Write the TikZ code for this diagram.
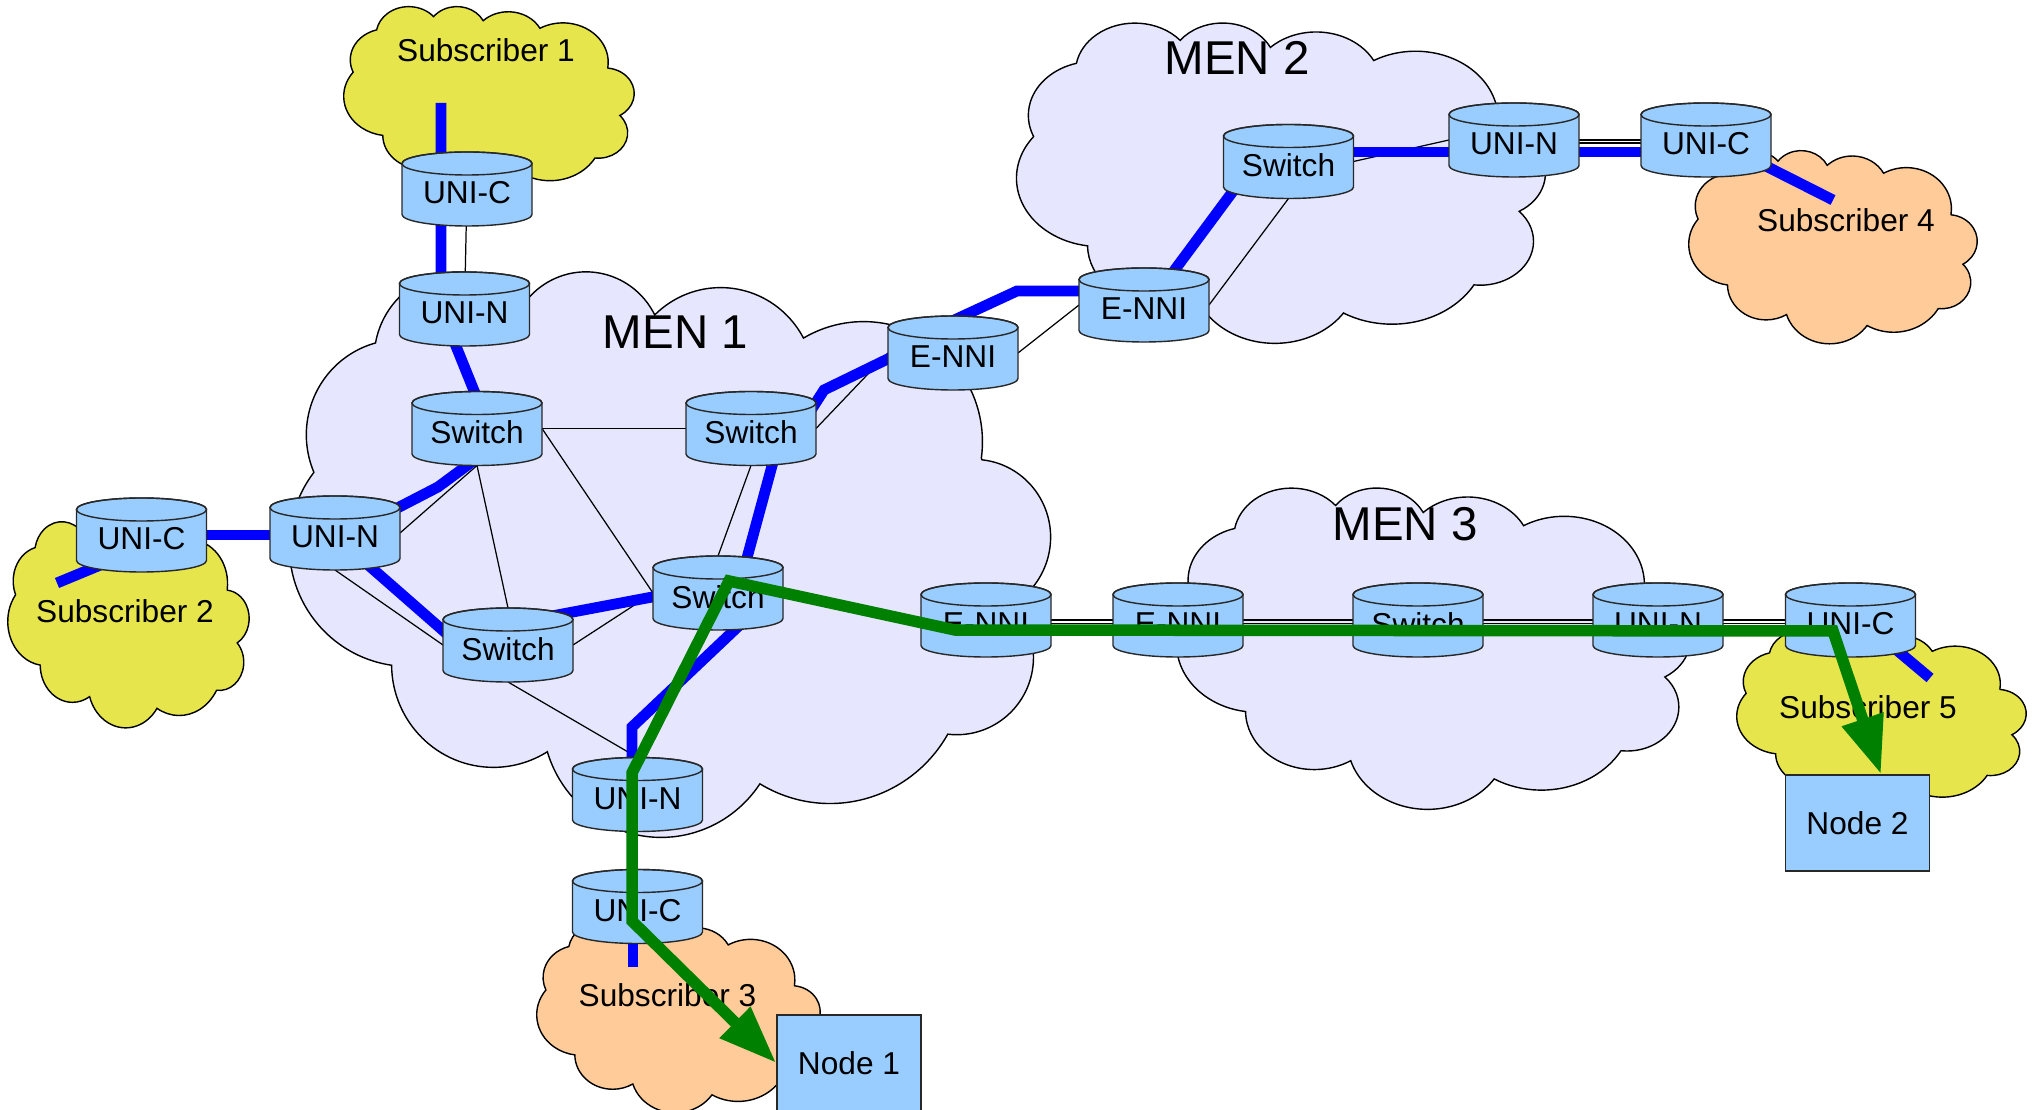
\documentclass[tikz,border=0pt]{standalone}
\usepackage{fontspec}
\setmainfont{Liberation Sans}
\usetikzlibrary{calc,arrows.meta}
\definecolor{menfill}{RGB}{230,230,255}
\definecolor{subyellow}{RGB}{230,230,76}
\definecolor{suborange}{RGB}{255,204,153}
\definecolor{cylfill}{RGB}{153,204,255}
\definecolor{linkblue}{RGB}{0,0,255}
\definecolor{pathgreen}{RGB}{0,128,0}
\definecolor{edgegray}{RGB}{40,40,40}

% cloud in a unit box; #1,#2 = shift, #3,#4 = x and y unit vectors
\newcommand\drawcloud[5]{%
  \begin{scope}[shift={(#1,#2)},x=#3,y=#4]
    \path[cloudedge,fill=#5] (0.09028,0.33264)
      arc[start angle=172.255, end angle=300.364, x radius=0.15632, y radius=0.21273]
      arc[start angle=-152.021, end angle=-45.456, x radius=0.12345, y radius=0.16822]
      arc[start angle=-153.49, end angle=-37.33, x radius=0.10104, y radius=0.13762]
      arc[start angle=-139.72, end angle=-10.211, x radius=0.11243, y radius=0.15266]
      arc[start angle=-74.768, end angle=23.209, x radius=0.12345, y radius=0.16836]
      arc[start angle=-37.525, end angle=81.863, x radius=0.15683, y radius=0.21343]
      arc[start angle=0.460, end angle=121.972, x radius=0.13391, y radius=0.18211]
      arc[start angle=16.845, end angle=146.230, x radius=0.15630, y radius=0.21331]
      arc[start angle=58.993, end angle=150.183, x radius=0.17870, y radius=0.24405]
      arc[start angle=83.306, end angle=223.108, x radius=0.10093, y radius=0.13699]
      arc[start angle=120.35, end angle=264.112, x radius=0.10058, y radius=0.13762]
      -- cycle;
  \end{scope}}

\newcommand\cylnode[3]{%
  \node[cylbox] (#1) at (#2) {};
  \path[cylbody] ($(#1)+(-65,-25.5)$) -- ++(0,51)
    arc[start angle=180, end angle=0, x radius=65, y radius=11.5] -- ++(0,-51)
    arc[start angle=0, end angle=-180, x radius=65, y radius=11.5] -- cycle;
  \draw[cyledge] ($(#1)+(0,-25.5)$) ellipse[x radius=65, y radius=11.5];
  \node[cyltext] at ($(#1)+(0,4)$) {#3};}

\tikzset{
  cloudedge/.style={draw=black, line width=0.4pt},
  cylbox/.style={minimum width=1.3cm, minimum height=0.74cm, inner sep=0pt, outer sep=0pt},
  cylbody/.style={draw=edgegray, fill=cylfill, line width=0.4pt},
  cyledge/.style={draw=edgegray, line width=0.4pt},
  cyltext/.style={font=\fontsize{9}{10}\selectfont, inner sep=0pt},
  sublabel/.style={font=\fontsize{9}{10}\selectfont, inner sep=0pt},
  menlabel/.style={font=\fontsize{13.5}{15}\selectfont, inner sep=0pt},
  boxnode/.style={draw=edgegray, fill=cylfill, line width=0.4pt, minimum width=1.44cm, minimum height=0.96cm, inner sep=0pt, font=\fontsize{9}{10}\selectfont},
  thinlink/.style={draw=black, line width=0.35pt},
  bluelink/.style={draw=linkblue, line width=1.08mm},
  greenpath/.style={draw=pathgreen, line width=1.15mm, line join=miter,
    {Triangle[length=5.8mm,width=4.1mm]}-{Triangle[length=5.8mm,width=4.1mm]}}
}

\begin{document}
\begin{tikzpicture}[x=0.01cm, y=-0.01cm]
\useasboundingbox (0,0) rectangle (2033,1110);
\clip (0,0) rectangle (2033,1110);
\fill[white] (0,0) rectangle (2033,1110);

% clouds (mirrored horizontally)
\drawcloud{1050}{270}{-7.6cm}{-5.65cm}{menfill}
\drawcloud{1545}{22}{-5.28cm}{-3.2cm}{menfill}
\drawcloud{1690}{487}{-5.13cm}{-3.21cm}{menfill}
\drawcloud{634}{6}{-2.9cm}{-1.85cm}{subyellow}
\drawcloud{249}{521}{-2.41cm}{-2.06cm}{subyellow}
\drawcloud{820}{922}{-2.83cm}{-1.9cm}{suborange}
\drawcloud{1977}{150}{-2.88cm}{-1.93cm}{suborange}
\drawcloud{2026}{630}{-2.89cm}{-1.77cm}{subyellow}

% cloud labels
\node[menlabel] (men1) at (675.5,332) {MEN 1};
\node[menlabel] (men2) at (1237,58) {MEN 2};
\node[menlabel] (men3) at (1405,524) {MEN 3};
\node[sublabel] (sub1) at (486,50) {Subscriber 1};
\node[sublabel] (sub2) at (125,611) {Subscriber 2};
\node[sublabel] (sub3) at (667.5,995) {Subscriber 3};
\node[sublabel] (sub4) at (1846,220) {Subscriber 4};
\node[sublabel] (sub5) at (1868,707) {Subscriber 5};

% free ends inside subscriber clouds
\coordinate (s1end) at (441,103);
\coordinate (s2end) at (57,583);
\coordinate (s3end) at (633,967);
\coordinate (s4end) at (1833,200);
\coordinate (s5end) at (1930,678);

% node positions
\path
  (467,189) coordinate (p1)
  (464.5,309) coordinate (p2)
  (477,428.5) coordinate (p3)
  (751,428.5) coordinate (p4)
  (953,353) coordinate (p5)
  (141.5,535) coordinate (p6)
  (335,533) coordinate (p7)
  (718,593) coordinate (p8)
  (508,645) coordinate (p9)
  (637.5,794.5) coordinate (p10)
  (637.5,906.5) coordinate (p11)
  (986,620) coordinate (p12)
  (1178,620) coordinate (p13)
  (1418,620) coordinate (p14)
  (1658,620) coordinate (p15)
  (1850.5,620) coordinate (p16)
  (1288.5,161.5) coordinate (p17)
  (1514,140) coordinate (p18)
  (1706,140) coordinate (p19)
  (1144,305) coordinate (p20);
\foreach \i in {1,...,20} {\node[cylbox] (c\i) at (p\i) {};}

% thin links
\draw[thinlink] (c1) -- (c2);
\draw[thinlink] ($(c7)+(65,0)$) -- ($(c3)+(0,37)$);
\draw[thinlink] (c3) -- (c4);
\draw[thinlink] ($(c3)+(0,37)$) -- ($(c9)+(0,-37)$);
\draw[thinlink] ($(c3)+(65,0)$) -- ($(c8)+(-65,0)$);
\draw[thinlink] ($(c4)+(0,37)$) -- ($(c8)+(0,-37)$);
\draw[thinlink] ($(c4)+(65,0)$) -- ($(c5)+(-65,0)$);
\draw[thinlink] ($(c5)+(65,0)$) -- ($(c20)+(-65,0)$);
\draw[thinlink] ($(c20)+(65,0)$) -- ($(c17)+(0,37)$);
\draw[thinlink] ($(c17)+(65,0)$) -- ($(c18)+(-65,0)$);
\draw[thinlink] (c18) -- (c19);
\draw[thinlink] ($(c18)+(0,3)$) -- ($(c19)+(0,3)$);
\draw[thinlink] ($(c7)+(0,37)$) -- ($(c9)+(-65,0)$);
\draw[thinlink] ($(c9)+(65,0)$) -- ($(c8)+(-65,0)$);
\draw[thinlink] ($(c9)+(0,37)$) -- ($(c10)+(0,-37)$);
\draw[thinlink] (c12) -- (c13) -- (c14) -- (c15) -- (c16);
\draw[thinlink] ($(c12)+(0,3.5)$) -- ($(c16)+(0,3.5)$);

% blue links
\draw[bluelink] (s1end) -- ($(c2)+(-23.5,0)$) -- ($(c3)+(5,-18)$);
\draw[bluelink] ($(c3)+(5,26)$) -- ($(c7)+(103,-46)$) -- ($(c7)+(45,-16)$);
\draw[bluelink] (c6) -- ($(c7)+(0,2)$);
\draw[bluelink] ($(c6)+(-12,18)$) -- (s2end);
\draw[bluelink] ($(c7)+(15,16)$) -- ($(c9)+(-53,-4)$);
\draw[bluelink] ($(c9)+(12,-23)$) -- ($(c8)+(-18,-5)$);
\draw[bluelink] ($(c4)+(28,11.5)$) -- ($(c8)+(23,-13)$);
\draw[bluelink] ($(c8)+(27,27)$) -- ($(c10)+(-5.5,-67.5)$) -- ($(c10)+(-5.5,0)$);
\draw[bluelink] ($(c11)+(-4.5,0)$) -- (s3end);
\draw[bluelink] ($(c4)+(55,-10.5)$) -- ($(c4)+(73,-38.5)$) -- ($(c5)+(-53,0)$);
\draw[bluelink] ($(c5)+(-3,-31)$) -- ($(c5)+(64,-62)$) -- ($(c20)+(-44,-14)$);
\draw[bluelink] ($(c20)+(21,-22)$) -- ($(c17)+(-43.5,13.5)$);
\draw[bluelink] ($(c17)+(0,-9.5)$) -- ($(c19)+(0,12)$);
\draw[bluelink] ($(c19)+(34,13)$) -- (s4end);
\draw[bluelink] ($(c16)+(20,8)$) -- (s5end);

% cylinders
\cylnode{c1}{p1}{UNI-C}
\cylnode{c2}{p2}{UNI-N}
\cylnode{c3}{p3}{Switch}
\cylnode{c4}{p4}{Switch}
\cylnode{c5}{p5}{E-NNI}
\cylnode{c6}{p6}{UNI-C}
\cylnode{c7}{p7}{UNI-N}
\cylnode{c8}{p8}{Switch}
\cylnode{c9}{p9}{Switch}
\cylnode{c10}{p10}{UNI-N}
\cylnode{c11}{p11}{UNI-C}
\cylnode{c12}{p12}{E-NNI}
\cylnode{c13}{p13}{E-NNI}
\cylnode{c14}{p14}{Switch}
\cylnode{c15}{p15}{UNI-N}
\cylnode{c16}{p16}{UNI-C}
\cylnode{c17}{p17}{Switch}
\cylnode{c18}{p18}{UNI-N}
\cylnode{c19}{p19}{UNI-C}
\cylnode{c20}{p20}{E-NNI}

% end nodes
\node[boxnode] (n1) at (849,1063) {Node 1};
\node[boxnode] (n2) at (1857.5,823) {Node 2};

% green path
\draw[greenpath] (n1.west) -- ($(c11)+(-5.5,14.5)$) -- ($(c10)+(-5.5,-21.5)$)
  -- ($(c8)+(11,-12)$) -- ($(c12)+(-31,10)$) -- ($(c16)+(-17.5,11)$)
  -- ($(n2.north)+(23.5,0)$);
\end{tikzpicture}
\end{document}
